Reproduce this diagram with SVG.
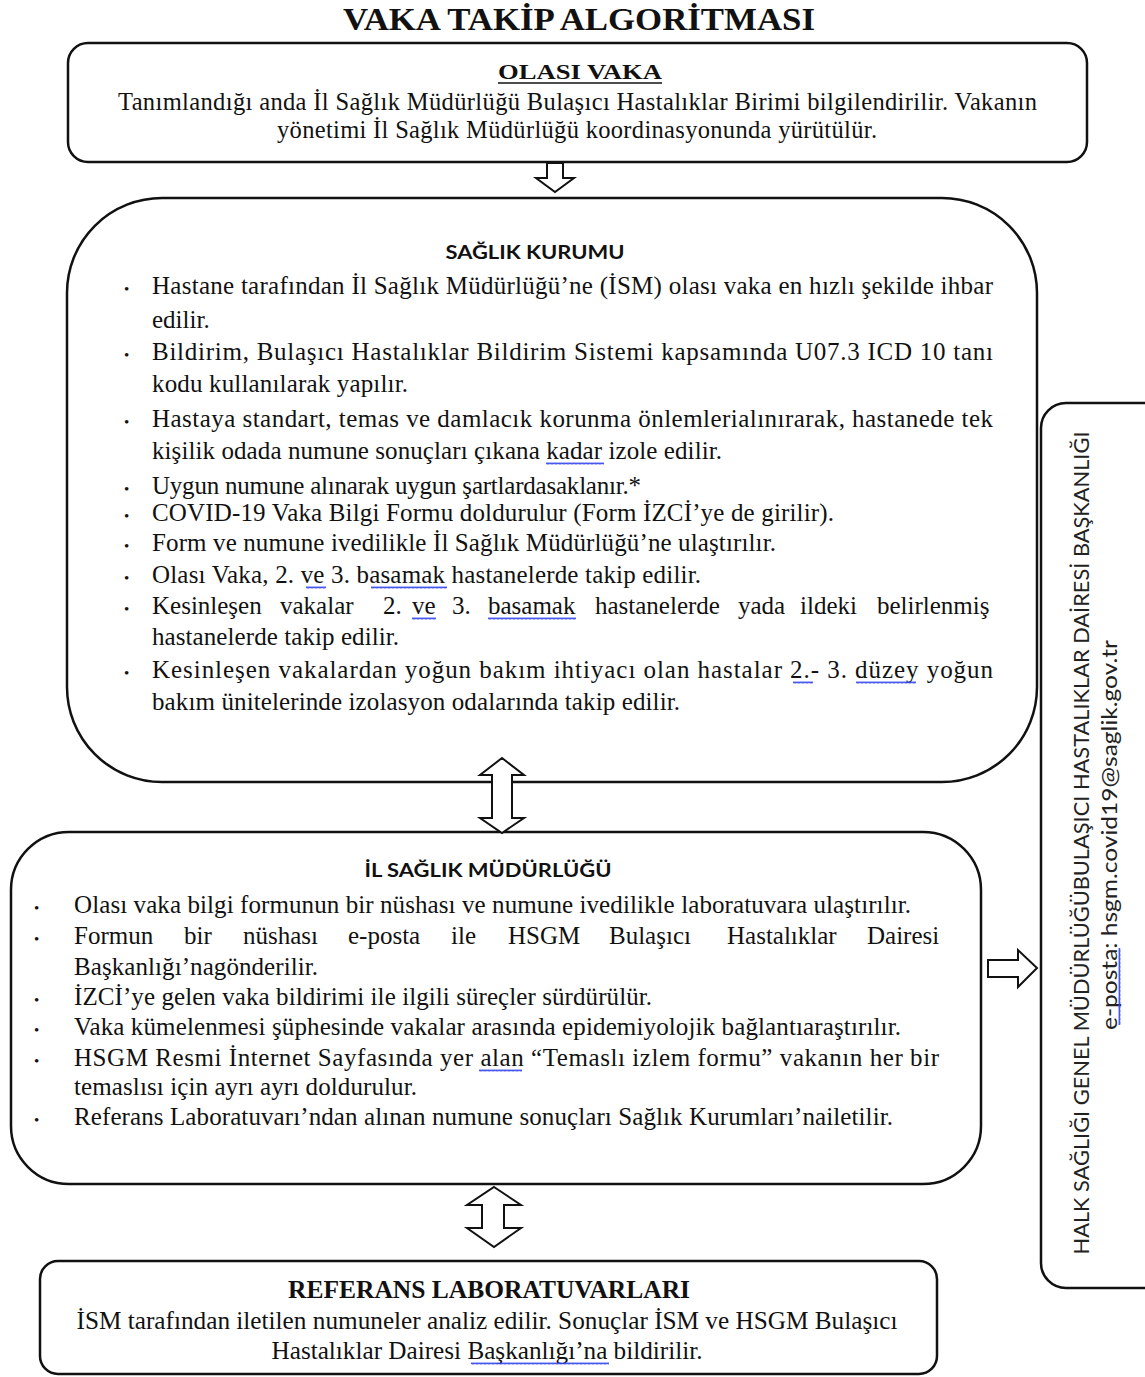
<svg xmlns="http://www.w3.org/2000/svg" width="1145" height="1377" viewBox="0 0 1145 1377">
<style>
.box{fill:#fff;stroke:#111;stroke-width:2.5}
.arr{fill:#fff;stroke:#111;stroke-width:2;stroke-linejoin:miter}
.t{font-family:"Liberation Serif","Times New Roman",serif;font-size:25px;fill:#111}
.b1{font-size:24.5px}
.ttl{font-family:"Liberation Serif","Times New Roman",serif;font-weight:bold;fill:#111}
.hs{font-family:Lato,"Open Sans",sans-serif;font-weight:bold;font-size:18px;fill:#111}
.vs{font-family:Lato,"Open Sans",sans-serif;font-size:21px;fill:#222}
.bul{font-family:"Liberation Serif",serif;font-size:15px;fill:#111}
.wv{fill:url(#wv)}
</style>
<defs>
<pattern id="wv" width="4" height="3" patternUnits="userSpaceOnUse">
<path d="M0,2.5 L1,0.5 L2,2.5 L3,0.5 L4,2.5" fill="none" stroke="#3344ee" stroke-width="0.9"/>
</pattern>
</defs>
<rect width="1145" height="1377" fill="#fff"/>

<text class="ttl" x="579" y="30" font-size="31" text-anchor="middle" textLength="472" lengthAdjust="spacingAndGlyphs">VAKA TAKİP ALGORİTMASI</text>

<g id="olasi-vaka">
<rect class="box" x="68" y="43" width="1019" height="119" rx="20" ry="20" stroke-width="3"/>
<text class="ttl" x="580" y="79" font-size="22" text-anchor="middle" textLength="164" lengthAdjust="spacingAndGlyphs">OLASI VAKA</text>
<line x1="498" y1="83" x2="662" y2="83" stroke="#111" stroke-width="1.5"/>
<text class="t b1" x="118" y="110" textLength="919" lengthAdjust="spacing">Tanımlandığı anda İl Sağlık Müdürlüğü Bulaşıcı Hastalıklar Birimi bilgilendirilir. Vakanın</text>
<text class="t b1" x="277" y="138" textLength="600" lengthAdjust="spacing">yönetimi İl Sağlık Müdürlüğü koordinasyonunda yürütülür.</text>
</g>

<g id="saglik-kurumu">
<rect class="box" x="67" y="198" width="970" height="584" rx="95" ry="95"/>
<text class="hs" x="535" y="259" text-anchor="middle" textLength="179" lengthAdjust="spacingAndGlyphs">SAĞLIK KURUMU</text>
<g class="bul">
<text x="124" y="294">•</text><text x="124" y="360">•</text><text x="124" y="427">•</text><text x="124" y="494">•</text><text x="124" y="521">•</text><text x="124" y="551">•</text><text x="124" y="583">•</text><text x="124" y="614">•</text><text x="124" y="678">•</text>
</g>
<text class="t" x="152" y="294" textLength="841" lengthAdjust="spacing">Hastane tarafından İl Sağlık Müdürlüğü’ne (İSM) olası vaka en hızlı şekilde ihbar</text>
<text class="t" x="152" y="328">edilir.</text>
<text class="t" x="152" y="360" textLength="841" lengthAdjust="spacing">Bildirim, Bulaşıcı Hastalıklar Bildirim Sistemi kapsamında U07.3 ICD 10 tanı</text>
<text class="t" x="152" y="392" textLength="256" lengthAdjust="spacing">kodu kullanılarak yapılır.</text>
<text class="t" x="152" y="427" textLength="841" lengthAdjust="spacing">Hastaya standart, temas ve damlacık korunma önlemlerialınırarak, hastanede tek</text>
<text class="t" x="152" y="459" textLength="570" lengthAdjust="spacing">kişilik odada numune sonuçları çıkana kadar izole edilir.</text>
<text class="t" x="152" y="494" textLength="489" lengthAdjust="spacing">Uygun numune alınarak uygun şartlardasaklanır.*</text>
<text class="t" x="152" y="521" textLength="682" lengthAdjust="spacing">COVID-19 Vaka Bilgi Formu doldurulur (Form İZCİ’ye de girilir).</text>
<text class="t" x="152" y="551" textLength="624" lengthAdjust="spacing">Form ve numune ivedilikle İl Sağlık Müdürlüğü’ne ulaştırılır.</text>
<text class="t" x="152" y="583" textLength="549" lengthAdjust="spacing">Olası Vaka, 2. ve 3. basamak hastanelerde takip edilir.</text>
<text class="t" y="614"><tspan x="152">Kesinleşen</tspan> <tspan x="280">vakalar</tspan> <tspan x="383">2.</tspan> <tspan x="412">ve</tspan> <tspan x="452">3.</tspan> <tspan x="488">basamak</tspan> <tspan x="595">hastanelerde</tspan> <tspan x="738">yada</tspan> <tspan x="800">ildeki</tspan> <tspan x="877">belirlenmiş</tspan></text>
<text class="t" x="152" y="645" textLength="247" lengthAdjust="spacing">hastanelerde takip edilir.</text>
<text class="t" x="152" y="678" textLength="841" lengthAdjust="spacing">Kesinleşen vakalardan yoğun bakım ihtiyacı olan hastalar 2.- 3. düzey yoğun</text>
<text class="t" x="152" y="710" textLength="528" lengthAdjust="spacing">bakım ünitelerinde izolasyon odalarında takip edilir.</text>
<g transform="translate(546,462)"><rect class="wv" width="58" height="3"/></g>
<g transform="translate(306,586)"><rect class="wv" width="20" height="3"/></g>
<g transform="translate(371,586)"><rect class="wv" width="76" height="3"/></g>
<g transform="translate(412,617)"><rect class="wv" width="24" height="3"/></g>
<g transform="translate(488,617)"><rect class="wv" width="88" height="3"/></g>
<g transform="translate(793,681)"><rect class="wv" width="20" height="3"/></g>
<g transform="translate(856,681)"><rect class="wv" width="60" height="3"/></g>
</g>

<g id="il-saglik-mudurlugu">
<rect class="box" x="11" y="832" width="970" height="352" rx="58" ry="58"/>
<text class="hs" x="488" y="877" text-anchor="middle" textLength="247" lengthAdjust="spacingAndGlyphs">İL SAĞLIK MÜDÜRLÜĞÜ</text>
<g class="bul">
<text x="34" y="913">•</text><text x="34" y="944">•</text><text x="34" y="1005">•</text><text x="34" y="1035">•</text><text x="34" y="1066">•</text><text x="34" y="1125">•</text>
</g>
<text class="t" x="74" y="913" textLength="837" lengthAdjust="spacing">Olası vaka bilgi formunun bir nüshası ve numune ivedilikle laboratuvara ulaştırılır.</text>
<text class="t" y="944"><tspan x="74">Formun</tspan> <tspan x="184">bir</tspan> <tspan x="243">nüshası</tspan> <tspan x="348">e-posta</tspan> <tspan x="451">ile</tspan> <tspan x="508">HSGM</tspan> <tspan x="609">Bulaşıcı</tspan> <tspan x="727">Hastalıklar</tspan> <tspan x="867">Dairesi</tspan></text>
<text class="t" x="74" y="975" textLength="244" lengthAdjust="spacing">Başkanlığı’nagönderilir.</text>
<text class="t" x="74" y="1005" textLength="578" lengthAdjust="spacing">İZCİ’ye gelen vaka bildirimi ile ilgili süreçler sürdürülür.</text>
<text class="t" x="74" y="1035" textLength="827" lengthAdjust="spacing">Vaka kümelenmesi şüphesinde vakalar arasında epidemiyolojik bağlantıaraştırılır.</text>
<text class="t" x="74" y="1066" textLength="865" lengthAdjust="spacing">HSGM Resmi İnternet Sayfasında yer alan “Temaslı izlem formu” vakanın her bir</text>
<text class="t" x="74" y="1095" textLength="343" lengthAdjust="spacing">temaslısı için ayrı ayrı doldurulur.</text>
<text class="t" x="74" y="1125" textLength="819" lengthAdjust="spacing">Referans Laboratuvarı’ndan alınan numune sonuçları Sağlık Kurumları’nailetilir.</text>
<g transform="translate(479,1069)"><rect class="wv" width="43" height="3"/></g>
</g>

<g id="referans-laboratuvarlari">
<rect class="box" x="40" y="1261" width="897" height="113" rx="18" ry="18"/>
<text class="ttl" x="489" y="1298" font-size="25" text-anchor="middle" textLength="402" lengthAdjust="spacingAndGlyphs">REFERANS LABORATUVARLARI</text>
<text class="t" x="487" y="1329" text-anchor="middle" textLength="821" lengthAdjust="spacingAndGlyphs">İSM tarafından iletilen numuneler analiz edilir. Sonuçlar İSM ve HSGM Bulaşıcı</text>
<text class="t" x="487" y="1359" text-anchor="middle" textLength="431" lengthAdjust="spacingAndGlyphs">Hastalıklar Dairesi Başkanlığı’na bildirilir.</text>
<g transform="translate(471,1362)"><rect class="wv" width="138" height="3"/></g>
</g>

<g id="hsgm">
<rect class="box" x="1041" y="403" width="130" height="885" rx="25" ry="25"/>
<text class="vs" transform="translate(1089,843) rotate(-90)" text-anchor="middle" textLength="823" lengthAdjust="spacingAndGlyphs">HALK SAĞLIĞI GENEL MÜDÜRLÜĞÜBULAŞICI HASTALIKLAR DAİRESİ BAŞKANLIĞI</text>
<text class="vs" transform="translate(1117,835) rotate(-90)" text-anchor="middle" textLength="390" lengthAdjust="spacingAndGlyphs">e-posta: hsgm.covid19@saglik.gov.tr</text>
<g transform="translate(1118,1025) rotate(-90)"><rect class="wv" width="77" height="3"/></g>
</g>

<g id="connectors">
<polygon class="arr" points="547,163 563,163 563,178 574,178 555,192 536,178 547,178"/>
<polygon class="arr" points="502,758 524,775 512,775 512,818 524,818 502,833 480,818 492,818 492,775 480,775"/>
<polygon class="arr" points="494,1187 521,1205 504,1205 504,1228 521,1228 494,1247 467,1228 482,1228 482,1205 467,1205"/>
<polygon class="arr" points="988,960 1018,960 1018,950 1037,968 1018,987 1018,977 988,977"/>
</g>
</svg>
